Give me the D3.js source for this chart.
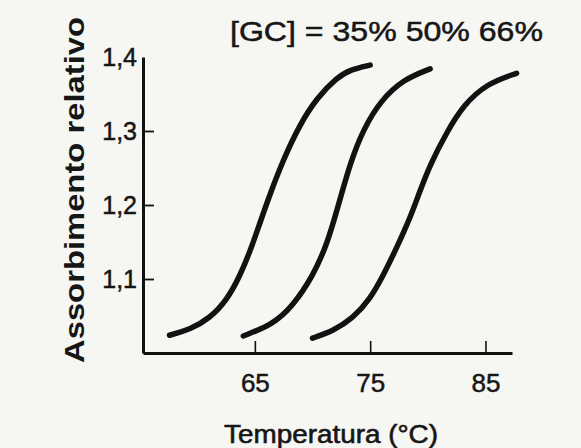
<!DOCTYPE html>
<html>
<head>
<meta charset="utf-8">
<script src="https://cdn.jsdelivr.net/npm/d3@7"></script>
<style>
  html, body { margin: 0; padding: 0; background: #f6f6f3; }
  svg { display: block; }
  text { font-family: "Liberation Sans", Arial, Helvetica, sans-serif; fill: #161616; }
</style>
</head>
<body>
<svg id="chart" width="581" height="448"></svg>
<script>
// DNA melting curves: relative absorbance vs temperature for three GC contents
const gcLabels = ["35%", "50%", "66%"];

// temperature (°C) / relative absorbance samples for each curve
const temp35 = [57.6, 59.4, 61.1, 62.6, 63.7, 64.6, 65.4, 66.3, 67.4, 68.9, 70.4, 72.1, 73.3, 75.0];
const abs35  = [1.024, 1.032, 1.047, 1.072, 1.104, 1.138, 1.174, 1.214, 1.259, 1.309, 1.345, 1.372, 1.383, 1.389];

const temp50 = [64.0, 66.6, 68.3, 70.0, 71.3, 72.3, 73.3, 74.4, 75.9, 77.9, 80.2];
const abs50  = [1.023, 1.039, 1.064, 1.103, 1.148, 1.203, 1.258, 1.302, 1.341, 1.370, 1.384];

const temp66 = [70.0, 71.8, 73.5, 75.0, 76.1, 77.3, 78.5, 79.2, 80.2, 81.7, 83.1, 85.1, 87.7];
const abs66  = [1.020, 1.030, 1.047, 1.073, 1.104, 1.142, 1.184, 1.214, 1.255, 1.300, 1.335, 1.364, 1.378];

const xTicks = [65, 75, 85];
const yTicks = [1.1, 1.2, 1.3, 1.4];

const series = [
  { gc: gcLabels[0], t: temp35, a: abs35 },
  { gc: gcLabels[1], t: temp50, a: abs50 },
  { gc: gcLabels[2], t: temp66, a: abs66 }
];

const svg = d3.select("#chart");

const x = d3.scaleLinear().domain([55.3, 87.3]).range([143, 512]);
const y = d3.scaleLinear().domain([1.0, 1.4]).range([353, 57]);

const itFormat = d3.formatLocale({ decimal: ",", thousands: ".", grouping: [3], currency: ["€", ""] }).format(".1f");

const ink = "#161616";

// x axis with inward ticks
const xAxis = svg.append("g")
  .attr("transform", `translate(0,${y(1.0)})`)
  .call(d3.axisBottom(x).tickValues(xTicks).tickSize(-12).tickSizeOuter(0).tickPadding(21).tickFormat(d3.format("d")));
xAxis.select(".domain").attr("stroke", "#111").attr("stroke-width", 3);
xAxis.selectAll(".tick line").attr("stroke", "#111").attr("stroke-width", 1.6);
xAxis.selectAll(".tick text").attr("font-size", 26)
  .style("font-family", "Liberation Sans, Arial, sans-serif")
  .attr("fill", ink).attr("stroke", ink).attr("stroke-width", 0.5);

// y axis with inward ticks, comma decimals
const yAxis = svg.append("g")
  .attr("transform", `translate(${x(55.3)},0)`)
  .call(d3.axisLeft(y).tickValues(yTicks).tickSize(-11).tickSizeOuter(0).tickPadding(6).tickFormat(itFormat));
yAxis.select(".domain").attr("stroke", "#111").attr("stroke-width", 3);
yAxis.selectAll(".tick line").attr("stroke", "#111").attr("stroke-width", 1.8)
  .attr("opacity", d => d === 1.4 ? 0 : 1);
yAxis.selectAll(".tick text").attr("font-size", 25)
  .style("font-family", "Liberation Sans, Arial, sans-serif")
  .attr("fill", ink).attr("stroke", ink).attr("stroke-width", 0.5);

// melting curves
const line = d3.line()
  .x(d => x(d[0]))
  .y(d => y(d[1]))
  .curve(d3.curveBasis);

svg.append("g").selectAll("path")
  .data(series)
  .join("path")
  .attr("d", s => line(s.t.map((t, i) => [t, s.a[i]])))
  .attr("fill", "none")
  .attr("stroke", "#121212")
  .attr("stroke-width", 5.5)
  .attr("stroke-linecap", "round");

// GC content legend line
svg.append("text")
  .attr("x", 230).attr("y", 41)
  .attr("font-size", 28)
  .attr("stroke", ink).attr("stroke-width", 0.5)
  .attr("textLength", 313).attr("lengthAdjust", "spacingAndGlyphs")
  .text("[GC] = " + gcLabels.join(" "));

// axis titles
svg.append("text")
  .attr("x", 224).attr("y", 443)
  .attr("font-size", 26)
  .attr("stroke", ink).attr("stroke-width", 0.6)
  .attr("textLength", 214).attr("lengthAdjust", "spacingAndGlyphs")
  .text("Temperatura (°C)");

svg.append("text")
  .attr("transform", "translate(84,190) rotate(-90)")
  .attr("text-anchor", "middle")
  .attr("font-size", 28)
  .attr("font-weight", "bold")
  .attr("textLength", 346).attr("lengthAdjust", "spacingAndGlyphs")
  .text("Assorbimento relativo");
</script>
</body>
</html>
